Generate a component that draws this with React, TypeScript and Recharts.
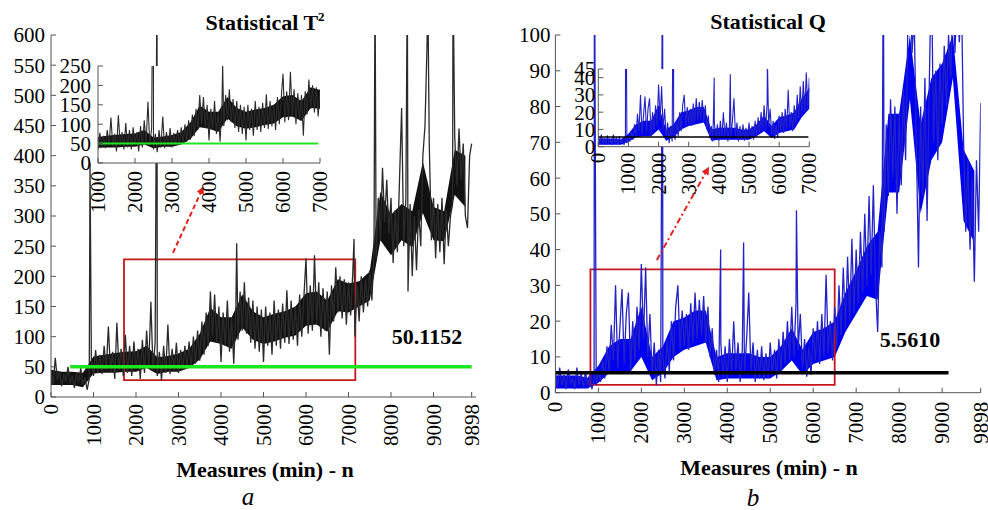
import React from "react";
import { ComposedChart, Line, Area, XAxis, YAxis, CartesianGrid, ReferenceLine, ReferenceArea } from "recharts";

// one sample every 50 minutes (zig-zag between the upper
// and lower edge of the noise band), plus the isolated spikes on their own
const STEP = 50;

const t2Values = [
  45, 20, 65, 28, 42, 18, 38, 25, 50, 22, 35, 15, 40, 24, 48, 20, 32, 12, 30, 60,
  35, 78, 40, 70, 38, 85, 45, 117, 42, 75, 30, 123, 45, 80, 35, 103, 40, 85, 35, 92,
  48, 80, 30, 95, 40, 110, 50, 158, 45, 90, 35, 75, 28, 85, 40, 120, 38, 80, 42, 90,
  40, 78, 45, 85, 48, 92, 50, 100, 55, 110, 60, 125, 70, 140, 85, 175, 100, 170, 90, 150,
  58, 140, 85, 160, 75, 130, 55, 150, 95, 175, 110, 190, 105, 165, 90, 160, 80, 150, 75, 145,
  58, 150, 85, 140, 70, 160, 85, 145, 80, 155, 90, 177, 88, 160, 95, 150, 85, 170, 100, 165,
  230, 105, 185, 110, 235, 120, 190, 100, 180, 110, 175, 70, 185, 125, 215, 140, 200, 130, 195, 120,
  190, 135, 205, 100, 185, 125, 200, 140, 195, 150, 210, 160, 240, 230, 330, 260, 380, 290, 360, 270,
  330, 222, 310, 240, 360, 479, 250, 330, 175, 320, 200, 300, 210, 310, 250, 400, 450, 590, 420, 260,
  330, 230, 320, 240, 330, 220, 310, 250, 300, 320, 430, 350, 445, 360, 420, 300, 280, 400,
];
const t2ExtraN = [918, 2494, 4369, 7130, 7624, 8384, 8863, 9459, 9898];
const t2ExtraV = [388, 700, 255, 262, 700, 700, 700, 700, 420];

// dense (solid) core of the noise band, every 250 minutes
const BAND_STEP = 250;
const t2CoreLo = [
  20, 20, 20, 16, 39, 40, 40, 42, 42, 48, 38, 42, 42, 48, 62, 92, 88, 80, 115, 95,
  88, 92, 98, 102, 118, 120, 108, 142, 140, 150, 160, 260, 235, 260, 248, 305, 260, 258, 335, 315,
];
const t2CoreHi = [
  45, 42, 42, 40, 67, 70, 73, 75, 76, 85, 66, 68, 72, 80, 105, 148, 132, 132, 170, 142,
  132, 138, 142, 150, 172, 175, 160, 195, 188, 192, 208, 340, 302, 320, 308, 390, 315, 308, 410, 400,
];

const qValues = [
  6, 1.5, 7, 2, 5, 1, 6.5, 2.5, 4, 1, 7, 2, 5.5, 1.5, 6, 2, 5, 1, 4, 2,
  6, 3, 9, 4, 13, 6, 19, 9, 30, 7, 18, 29, 8, 22, 28, 6, 20, 9, 24, 12,
  36, 15, 35, 10, 22, 5, 14, 2, 12, 3, 10, 4, 15, 6, 20, 9, 24, 30, 12, 23,
  13, 22, 12, 25, 14, 28, 15, 26, 16, 27, 14, 24, 10, 18, 5, 12, 3, 14, 4, 13,
  3, 15, 5, 20, 6, 14, 3, 12, 5, 15, 28, 6, 14, 3, 12, 4, 13, 3.5, 11, 4,
  14, 5, 12, 4, 15, 6, 17, 8, 20, 9, 24, 10, 25, 12, 22, 7, 15, 4.5, 13, 5,
  18, 9, 20, 8, 22, 10, 33, 11, 20, 9, 24, 13, 30, 16, 35, 18, 38, 20, 43, 22,
  40, 25, 45, 28, 50, 30, 55, 33, 58, 30, 17, 45, 35, 45, 75, 55, 82, 60, 80, 50,
  78, 58, 85, 65, 100, 120, 95, 105, 70, 35, 80, 55, 88, 48, 85, 120, 70, 90, 65, 92,
  75, 97, 80, 100, 88, 110, 95, 115, 98, 112, 70, 45, 65, 40, 60, 31, 65, 45,
];
const qExtraN = [909, 2494, 3846, 4380, 5610, 7632, 9898];
const qExtraV = [130, 130, 40, 42, 51, 130, 81];

const qCoreLo = [
  1.2, 1.2, 1.2, 1.2, 2.8, 5.5, 6, 6, 10, 3.5, 5.5, 10, 12, 13, 14, 3.5, 4, 4, 4, 4,
  4, 6, 9, 5, 8, 9, 10, 17, 22, 27, 26, 56, 56, 82, 50, 65, 70, 88, 48, 42,
];
const qCoreHi = [
  4.8, 4.8, 4.8, 4.2, 7.5, 13, 15, 15, 24, 10, 13, 20, 21, 23, 23, 10, 11, 11, 11, 10,
  10, 13, 18, 12, 17, 18, 20, 28, 34, 41, 45, 78, 78, 100, 75, 88, 92, 100, 68, 62,
];

const t2XTicks = [0, 1000, 2000, 3000, 4000, 5000, 6000, 7000, 8000, 9000, 9898];
const t2YTicks = [0, 50, 100, 150, 200, 250, 300, 350, 400, 450, 500, 550, 600];
const t2InsetXTicks = [1000, 2000, 3000, 4000, 5000, 6000, 7000];
const t2InsetYTicks = [0, 50, 100, 150, 200, 250];
const qXTicks = [0, 1000, 2000, 3000, 4000, 5000, 6000, 7000, 8000, 9000, 9898];
const qYTicks = [0, 10, 20, 30, 40, 50, 60, 70, 80, 90, 100];
const qInsetXTicks = [0, 1000, 2000, 3000, 4000, 5000, 6000, 7000];
const qInsetYTicks = [0, 10, 20, 30, 40, 45];

const T2_LIMIT = 50.1152;
const Q_LIMIT = 5.561;

const SERIF = '"Liberation Serif", "Times New Roman", "DejaVu Serif", "Noto Serif", serif';
const AXIS = "#555";
const RED = "#c8161d";
const ARROW = "#e3221f";
const GREEN = "#1ee61e";
const BLUE = "#0000f0";
const INK = "#111";
const HAIR_T2 = "#2a2a2a";
const HAIR_Q = "#2222c8";
const FS = 21;

function buildSeries(values: number[], extraN: number[], extraV: number[]) {
  const rows = values.map((v, i) => ({ n: i * STEP, v }));
  extraN.forEach((n, i) => rows.push({ n, v: extraV[i] }));
  return rows.sort((a, b) => a.n - b.n);
}

function buildBand(lo: number[], hi: number[]) {
  return lo.map((l, i) => ({ n: i * BAND_STEP, band: [l, hi[i]] }));
}

const t2Data = buildSeries(t2Values, t2ExtraN, t2ExtraV);
const qData = buildSeries(qValues, qExtraN, qExtraV);
const t2Band = buildBand(t2CoreLo, t2CoreHi);
const qBand = buildBand(qCoreLo, qCoreHi);

function RotTick(props: any) {
  const { x, y, payload, gap } = props;
  const ty = y + gap;
  return (
    <text
      x={x}
      y={ty}
      transform={`rotate(-90 ${x} ${ty})`}
      textAnchor="end"
      dominantBaseline="central"
      fontSize={FS}
      fontFamily={SERIF}
      fill="#000"
    >
      {payload.value}
    </text>
  );
}

const yTick = { fontSize: FS, fill: "#000", fontFamily: SERIF };
const axisLine = { stroke: AXIS, strokeWidth: 1 };

function arrowShape(dash: string) {
  return (p: any) => (
    <line x1={p.x1} y1={p.y1} x2={p.x2} y2={p.y2} stroke={ARROW} strokeWidth={2} strokeDasharray={dash} markerEnd="url(#arrowHead)" />
  );
}

function Text({ x, y, size = 22, bold = true, italic = false, children }: any) {
  return (
    <div
      style={{
        position: "absolute",
        left: x,
        top: y,
        transform: "translate(-50%, -50%)",
        whiteSpace: "nowrap",
        fontSize: size,
        fontWeight: bold ? 700 : 400,
        fontStyle: italic ? "italic" : "normal",
        lineHeight: 1,
      }}
    >
      {children}
    </div>
  );
}

export default function App() {
  return (
    <div
      style={{
        position: "absolute",
        left: 0,
        top: 0,
        width: 988,
        height: 510,
        overflow: "hidden",
        background: "#fff",
        fontFamily: SERIF,
        color: "#000",
      }}
    >
      {/* ---------- a: T² ---------- */}
      <div style={{ position: "absolute", left: 0, top: 0 }}>
        <ComposedChart width={490} height={510} data={t2Data} margin={{ top: 35, right: 14, bottom: 0, left: 0 }}>
          <defs>
            <marker id="arrowHead" viewBox="0 0 10 10" refX="8" refY="5" markerWidth="4" markerHeight="4" orient="auto">
              <path d="M0,0 L10,5 L0,10 z" fill={ARROW} />
            </marker>
          </defs>
          <XAxis
            dataKey="n"
            type="number"
            domain={[0, 10000]}
            ticks={t2XTicks}
            interval={0}
            allowDataOverflow
            height={113}
            tickSize={-5}
            tickMargin={5}
            tick={(p: any) => <RotTick {...p} gap={7} />}
            axisLine={axisLine}
            tickLine={axisLine}
          />
          <XAxis
            xAxisId="top"
            orientation="top"
            type="number"
            domain={[0, 10000]}
            ticks={t2XTicks}
            interval={0}
            allowDataOverflow
            height={0}
            tick={false}
            tickSize={-5}
            axisLine={axisLine}
            tickLine={axisLine}
          />
          <YAxis
            type="number"
            domain={[0, 600]}
            ticks={t2YTicks}
            interval={0}
            allowDataOverflow
            width={51}
            tickSize={-5}
            tickMargin={11}
            tick={yTick}
            axisLine={axisLine}
            tickLine={axisLine}
          />
          <YAxis
            yAxisId="right"
            orientation="right"
            type="number"
            domain={[0, 600]}
            ticks={t2YTicks}
            interval={0}
            allowDataOverflow
            width={0}
            tick={false}
            tickSize={-5}
            axisLine={axisLine}
            tickLine={axisLine}
          />
          <Area data={t2Band} dataKey="band" type="linear" stroke="none" fill={INK} fillOpacity={1} dot={false} activeDot={false} isAnimationActive={false} />
          <Line dataKey="v" type="linear" stroke={HAIR_T2} strokeWidth={1.3} dot={false} activeDot={false} isAnimationActive={false} />
          <ReferenceLine segment={[{ x: 450, y: T2_LIMIT }, { x: 9898, y: T2_LIMIT }]} stroke={GREEN} strokeWidth={3.5} />
          <ReferenceArea x1={1718} x2={7160} y1={28} y2={228} fill="none" stroke={RED} strokeWidth={1.8} />
          <ReferenceLine segment={[{ x: 2870, y: 239 }, { x: 3576, y: 347 }]} shape={arrowShape("5 3")} />
        </ComposedChart>
      </div>

      <div style={{ position: "absolute", left: 0, top: 0 }}>
        <ComposedChart width={340} height={230} data={t2Data} margin={{ top: 66, right: 20, bottom: 0, left: 0 }}>
          <CartesianGrid fill="#fff" stroke="none" horizontal={false} vertical={false} />
          <XAxis
            dataKey="n"
            type="number"
            domain={[1000, 7000]}
            ticks={t2InsetXTicks}
            interval={0}
            allowDataOverflow
            height={67}
            tickSize={-5}
            tickMargin={5}
            tick={(p: any) => <RotTick {...p} gap={8} />}
            axisLine={axisLine}
            tickLine={axisLine}
          />
          <YAxis
            type="number"
            domain={[0, 250]}
            ticks={t2InsetYTicks}
            interval={0}
            allowDataOverflow
            width={98}
            tickSize={-5}
            tickMargin={12}
            tick={yTick}
            axisLine={axisLine}
            tickLine={axisLine}
          />
          <Area data={t2Band} dataKey="band" type="linear" stroke="none" fill={INK} fillOpacity={1} dot={false} activeDot={false} isAnimationActive={false} />
          <Line dataKey="v" type="linear" stroke={HAIR_T2} strokeWidth={1.1} dot={false} activeDot={false} isAnimationActive={false} />
          <ReferenceLine segment={[{ x: 1000, y: T2_LIMIT }, { x: 6950, y: T2_LIMIT }]} stroke={GREEN} strokeWidth={2} />
        </ComposedChart>
      </div>

      {/* ---------- b: Q ---------- */}
      <div style={{ position: "absolute", left: 490, top: 0 }}>
        <ComposedChart width={498} height={510} data={qData} margin={{ top: 35, right: 7.3, bottom: 0, left: 0 }}>
          <XAxis
            dataKey="n"
            type="number"
            domain={[0, 9898]}
            ticks={qXTicks}
            interval={0}
            allowDataOverflow
            height={117.3}
            tickSize={-5}
            tickMargin={5}
            tick={(p: any) => <RotTick {...p} gap={9} />}
            axisLine={axisLine}
            tickLine={axisLine}
          />
          <XAxis
            xAxisId="top"
            orientation="top"
            type="number"
            domain={[0, 9898]}
            ticks={qXTicks}
            interval={0}
            allowDataOverflow
            height={0}
            tick={false}
            tickSize={-5}
            axisLine={axisLine}
            tickLine={axisLine}
          />
          <YAxis
            type="number"
            domain={[0, 100]}
            ticks={qYTicks}
            interval={0}
            allowDataOverflow
            width={65.4}
            tickSize={-5}
            tickMargin={10}
            tick={yTick}
            axisLine={axisLine}
            tickLine={axisLine}
          />
          <YAxis
            yAxisId="right"
            orientation="right"
            type="number"
            domain={[0, 100]}
            ticks={qYTicks}
            interval={0}
            allowDataOverflow
            width={0}
            tick={false}
            tickSize={-5}
            axisLine={axisLine}
            tickLine={axisLine}
          />
          <Area data={qBand} dataKey="band" type="linear" stroke="none" fill={BLUE} fillOpacity={1} dot={false} activeDot={false} isAnimationActive={false} />
          <Line dataKey="v" type="linear" stroke={HAIR_Q} strokeWidth={1.3} dot={false} activeDot={false} isAnimationActive={false} />
          <ReferenceLine segment={[{ x: 0, y: Q_LIMIT }, { x: 9150, y: Q_LIMIT }]} stroke="#000" strokeWidth={3.5} />
          <ReferenceArea x1={815} x2={6500} y1={2.2} y2={34.5} fill="none" stroke={RED} strokeWidth={1.8} />
          <ReferenceLine segment={[{ x: 2361, y: 37.1 }, { x: 3557, y: 62.8 }]} shape={arrowShape("6 3 2 3")} />
        </ComposedChart>
      </div>

      <div style={{ position: "absolute", left: 500, top: 0 }}>
        <ComposedChart width={330} height={230} data={qData} margin={{ top: 69, right: 20.7, bottom: 0, left: 0 }}>
          <CartesianGrid fill="#fff" stroke="none" horizontal={false} vertical={false} />
          <XAxis
            dataKey="n"
            type="number"
            domain={[0, 7000]}
            ticks={qInsetXTicks}
            interval={0}
            allowDataOverflow
            height={83.3}
            tickSize={-5}
            tickMargin={5}
            tick={(p: any) => <RotTick {...p} gap={6} />}
            axisLine={axisLine}
            tickLine={axisLine}
          />
          <YAxis
            type="number"
            domain={[0, 45]}
            ticks={qInsetYTicks}
            interval={0}
            allowDataOverflow
            width={98.3}
            tickSize={-5}
            tickMargin={8}
            tick={yTick}
            axisLine={axisLine}
            tickLine={axisLine}
          />
          <Area data={qBand} dataKey="band" type="linear" stroke="none" fill={BLUE} fillOpacity={1} dot={false} activeDot={false} isAnimationActive={false} />
          <Line dataKey="v" type="linear" stroke={HAIR_Q} strokeWidth={1.1} dot={false} activeDot={false} isAnimationActive={false} />
          <ReferenceLine segment={[{ x: 0, y: Q_LIMIT }, { x: 6970, y: Q_LIMIT }]} stroke="#000" strokeWidth={1.5} />
        </ComposedChart>
      </div>

      {/* ---------- titles and labels ---------- */}
      <Text x={265} y={22}>
        Statistical T<sup style={{ fontSize: 13 }}>2</sup>
      </Text>
      <Text x={768} y={22}>Statistical Q</Text>
      <Text x={265} y={470}>Measures (min) - n</Text>
      <Text x={769} y={468}>Measures (min) - n</Text>
      <Text x={248} y={496} size={25} bold={false} italic>a</Text>
      <Text x={753} y={497} size={25} bold={false} italic>b</Text>
      <Text x={427} y={337}>50.1152</Text>
      <Text x={910} y={340}>5.5610</Text>
    </div>
  );
}
